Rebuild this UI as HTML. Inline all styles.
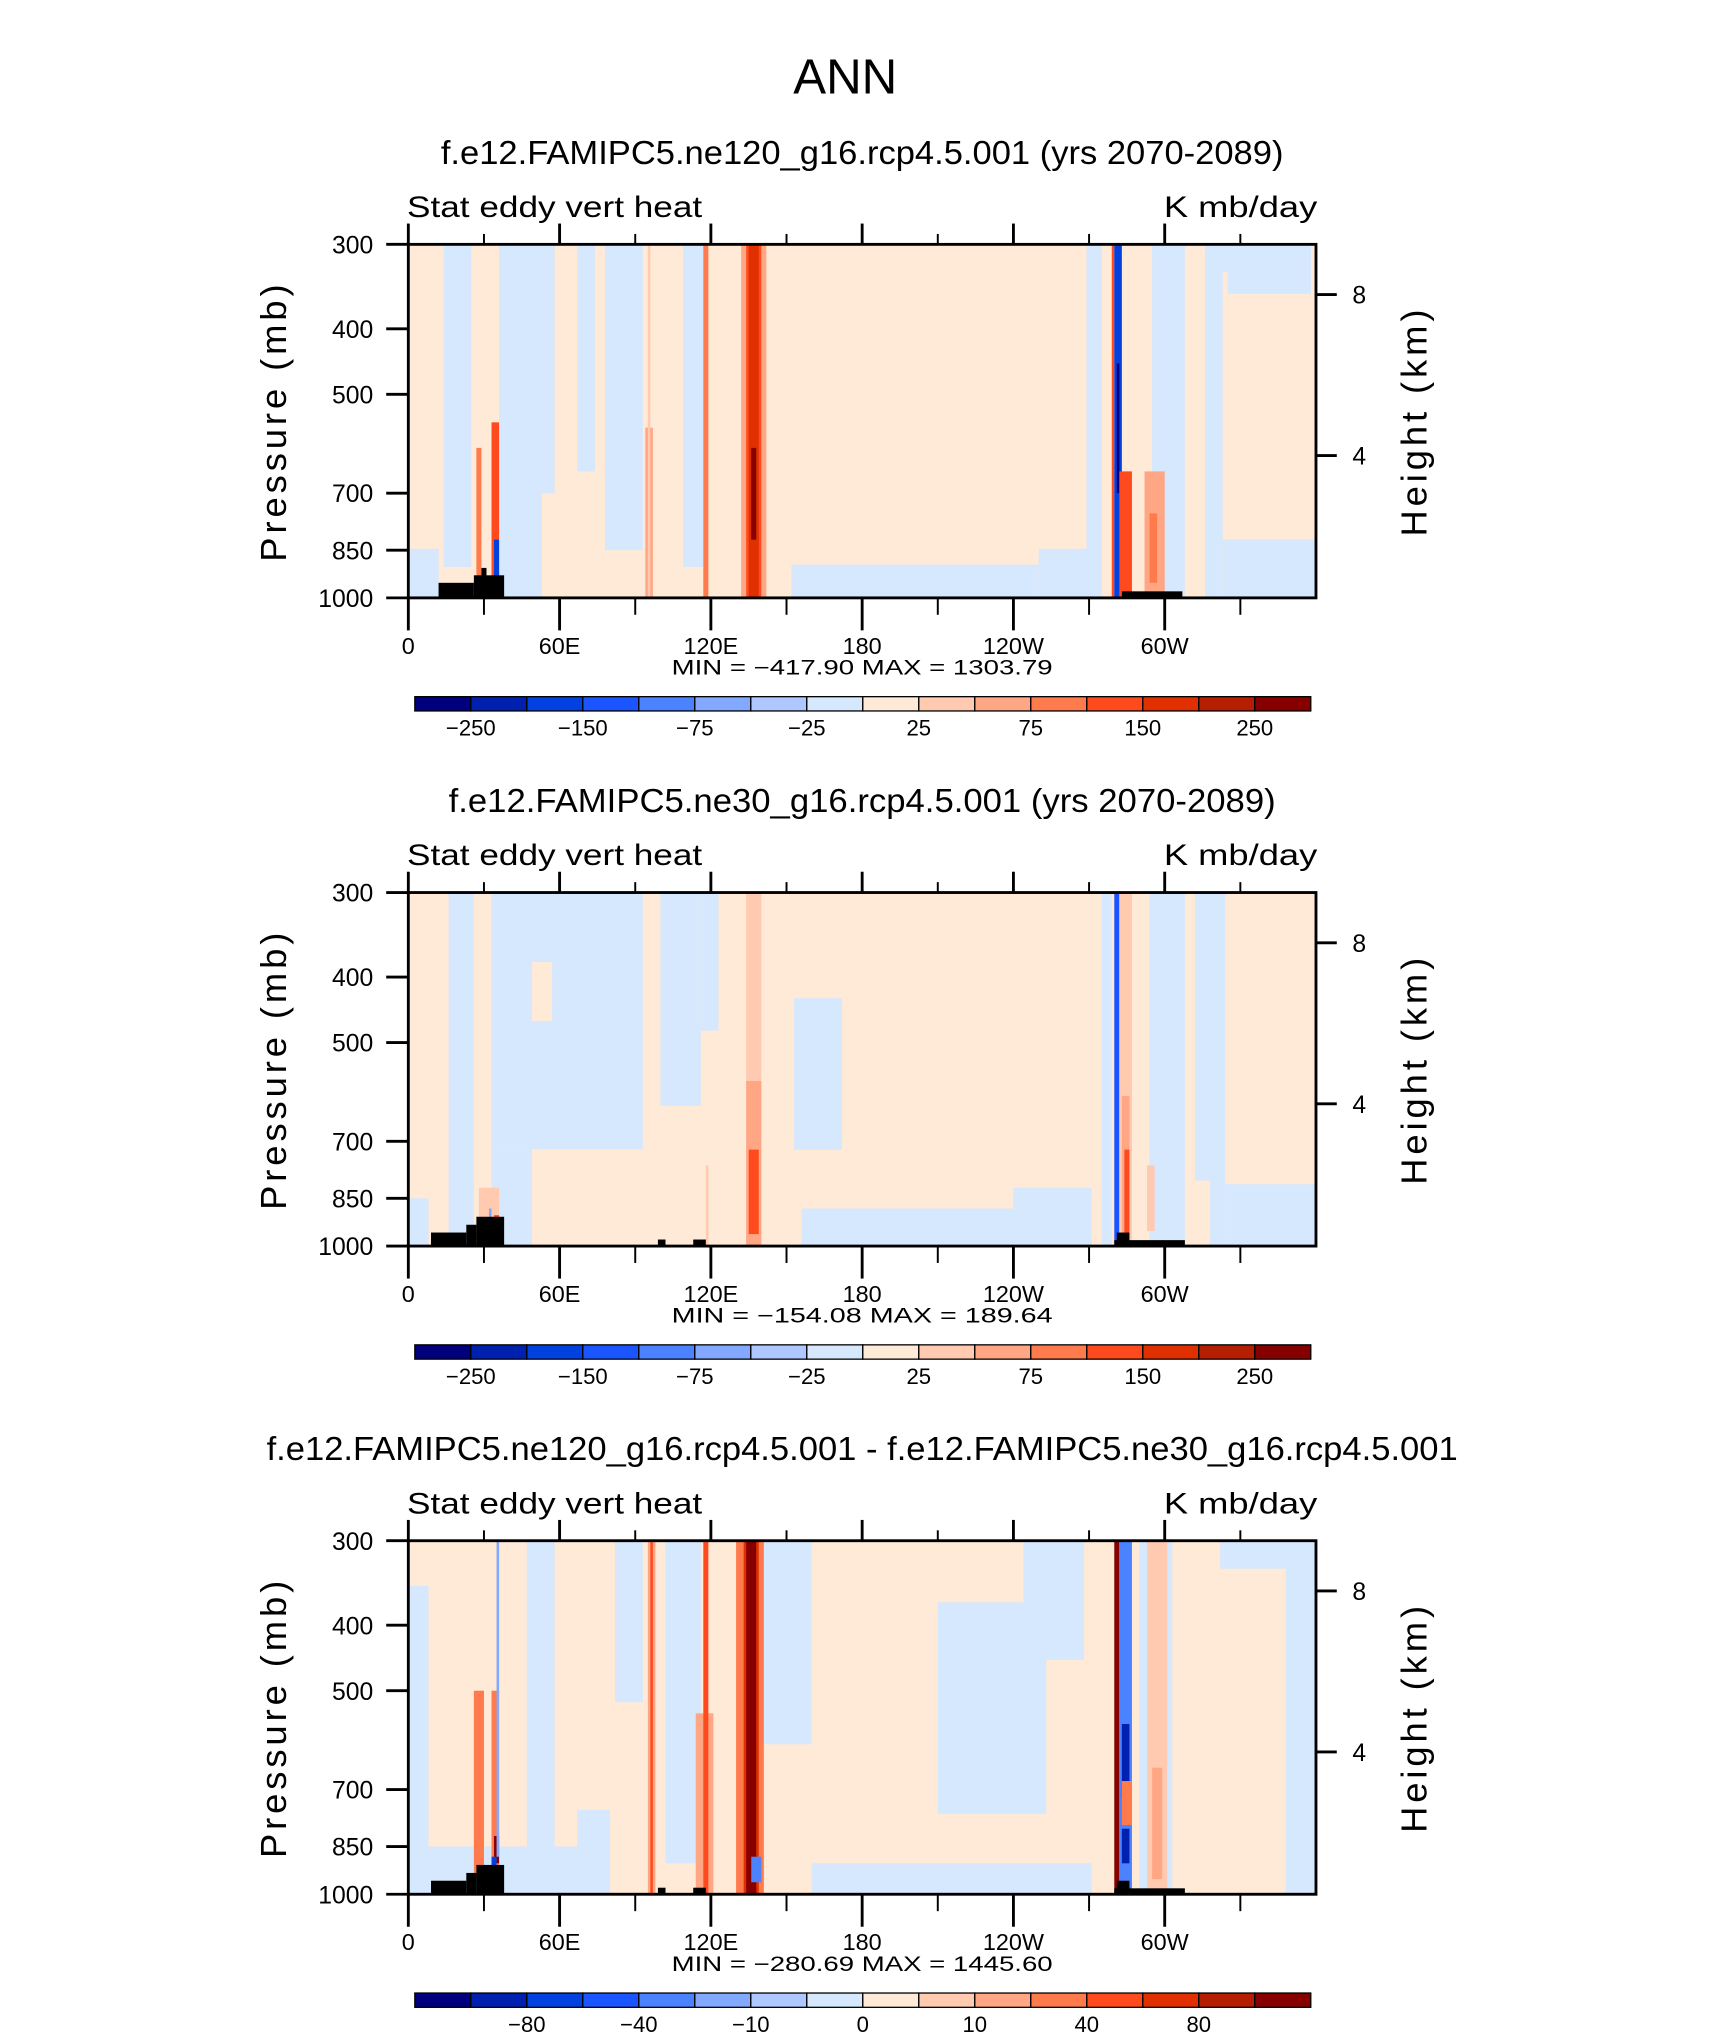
<!DOCTYPE html>
<html><head><meta charset="utf-8"><style>
html,body{margin:0;padding:0;background:#fff;}
svg{display:block;}
text{font-family:"Liberation Sans",sans-serif;fill:#000;}
</style></head><body>
<svg id="fig" width="1710" height="2038" viewBox="0 0 1315 1568" preserveAspectRatio="none" xmlns="http://www.w3.org/2000/svg">
<rect width="1315" height="1568" fill="#fff"/>
<text x="650" y="72" font-size="38" text-anchor="middle" textLength="80" lengthAdjust="spacingAndGlyphs">ANN</text>
</svg>
<script>
const palette = ["#00007f","#0021b0","#0041e0","#1a55ff","#4a82ff","#82a8ff","#aec8ff","#d5e8fd","#ffe9d7","#ffcab0","#ffa684","#ff7a4c","#ff4a1e","#e03000","#b51e00","#870000"];
const lonTickVals = [0,60,120,180,240,300];
const lonTickLabels = ["0","60E","120E","180","120W","60W"];
const lonMinor = [30,90,150,210,270,330];
const pTicks = [300,400,500,700,850,1000];
const hTicks = [8,4];
const hTickP = [356,616];
const cbLabelsA = ["-250","-150","-75","-25","25","75","150","250"];
const cbLabelsB = ["-80","-40","-10","0","10","40","80"];
const panelTitles = ["f.e12.FAMIPC5.ne120_g16.rcp4.5.001 (yrs 2070-2089)","f.e12.FAMIPC5.ne30_g16.rcp4.5.001 (yrs 2070-2089)","f.e12.FAMIPC5.ne120_g16.rcp4.5.001 - f.e12.FAMIPC5.ne30_g16.rcp4.5.001"];
const titleWidths = [648,636,916];
const minMaxText = ["MIN = \u2212417.90   MAX = 1303.79","MIN = \u2212154.08   MAX = 189.64","MIN = \u2212280.69   MAX = 1445.60"];
// fields: [lon0, lon1, pTop, pBot, level]
const field1 = [
 [0,12,846,1000,7],[14,25,300,900,7],[36,53,300,1000,7],[53,58,300,700,7],[67,74,300,650,7],[78,93,300,850,7],
 [109,117,300,900,7],[152,250,893,1000,7],[250,274,846,1000,7],[269,275,300,1000,7],[295,308,300,1000,7],
 [316,323,300,1000,7],[323,360,820,1000,7],[318,346,300,330,7],[325,358,300,355,7],
 [94,97,560,1000,10],[95,96,300,1000,9],[117,119,300,1000,11],[132,142,300,1000,10],[134,140,300,1000,12],[135,139,300,1000,13],[136,138,600,820,15],
 [27,29,600,1000,11],[33,36,550,1000,12],[34,36,820,960,2],
 [279,280,300,1000,12],[280,283,300,1000,2],[281,282,450,700,0],[282,287,650,1000,12],[292,300,650,1000,10],[294,297,750,950,11]
];
const field2 = [
 [0,8,850,1000,7],[16,26,300,1000,7],[33,93,300,719,7],[33,49,719,1000,7],[100,116,300,620,7],[116,123,300,480,7],
 [153,172,430,720,7],[156,240,880,1000,7],[240,271,820,1000,7],[275,279,300,1000,7],[294,308,300,1000,7],
 [312,324,300,800,7],[318,324,800,1000,7],[324,360,810,1000,7],
 [49,57,380,465,8],
 [134,140,300,1000,9],[134,140,570,1000,10],[135,139,720,960,12],[118,119,760,1000,9],
 [28,36,820,960,9],[34,36,900,960,12],[32,33,880,960,5],
 [280,282,300,1000,3],[282,287,300,1000,9],[283,286,600,1000,10],[284,286,720,1000,12],[293,296,760,950,9]
];
const field3 = [
 [0,8,350,1000,7],[0,70,850,1000,7],[47,58,300,1000,7],[67,80,750,1000,7],[82,93,300,520,7],[102,116,300,900,7],
 [140,160,300,600,7],[210,253,370,760,7],[244,268,300,450,7],[160,271,900,1000,7],[290,303,300,1000,7],
 [322,355,300,330,7],[348,360,300,1000,7],
 [95,98,300,1000,10],[96,97,300,1000,12],[114,121,540,1000,10],[117,119,300,1000,12],
 [130,141,300,1000,11],[133,139,300,1000,13],[134,138,300,1000,15],[136,140,880,960,4],
 [26,30,500,950,11],[33,36,500,1000,11],[34,36,820,900,15],[35,36,300,880,5],[33,35,880,930,2],
 [280,282,300,1000,15],[282,287,300,1000,4],[283,286,560,720,1],[283,286,800,900,1],[283,287,680,790,11],
 [293,301,300,1000,9],[295,299,650,950,10]
];
const topo1 = [[12,26,950],[26,38,926],[29,31,903],[283,307,978]];
const topo2 = [[9,23,955],[23,27,930],[27,38,905],[99,102,978],[113,118,978],[281,286,955],[280,308,980]];
const topo3 = [[9,23,955],[23,27,930],[27,38,905],[99,102,978],[113,118,978],[281,286,955],[280,308,980]];
const fields = [field1, field2, field3];
const topos = [topo1, topo2, topo3];

const NS="http://www.w3.org/2000/svg";
const svg=document.getElementById('fig');
const X0=314, X1=1012;
function xs(lon){return X0+(lon/360)*(X1-X0);}
function mk(tag,attrs,parent){const e=document.createElementNS(NS,tag);for(const k in attrs)e.setAttribute(k,attrs[k]);(parent||svg).appendChild(e);return e;}
function txt(s,attrs,parent){const e=mk('text',attrs,parent);e.textContent=s;return e;}

for(let k=0;k<3;k++){
  const off=k*498.7;
  const Y0=188+off, Y1=460+off;
  const ys=p=>Y0+(Math.log(p/300)/Math.log(1000/300))*(Y1-Y0);
  const g=mk('g',{});
  
  
  const t=txt(panelTitles[k],{x:663,y:126+off,'font-size':26,'text-anchor':'middle',textLength:titleWidths[k],lengthAdjust:'spacingAndGlyphs'},g);
  
  
  const s1=txt('Stat eddy vert heat',{x:313,y:167+off,'font-size':23,textLength:227,lengthAdjust:'spacingAndGlyphs'},g);
  
  
  const s2=txt('K mb/day',{x:895,y:167+off,'font-size':23,textLength:118,lengthAdjust:'spacingAndGlyphs'},g);
  
  
  const bg=mk('rect',{x:X0,y:Y0,width:X1-X0,height:Y1-Y0,fill:palette[8]},g);
  
  
  fields[k].forEach(f=>{
    const r=mk('rect',{x:xs(f[0]),y:ys(f[2]),width:xs(f[1])-xs(f[0]),height:ys(f[3])-ys(f[2]),fill:palette[f[4]]},g);
    
    
  });
  topos[k].forEach(f=>{
    const r=mk('rect',{x:xs(f[0]),y:ys(f[2]),width:xs(f[1])-xs(f[0]),height:Y1-ys(f[2]),fill:'#000'},g);
    
    
  });
  const fr=mk('rect',{x:X0,y:Y0,width:X1-X0,height:Y1-Y0,fill:'none',stroke:'#000','stroke-width':2.2},g);
  
  
  lonTickVals.forEach((v,i)=>{
    const x=xs(v);
    mk('line',{x1:x,x2:x,y1:Y1,y2:Y1+25,stroke:'#000','stroke-width':2.2},g);
    mk('line',{x1:x,x2:x,y1:Y0,y2:Y0-16,stroke:'#000','stroke-width':2.2},g);
    const l=txt(lonTickLabels[i],{x:x,y:Y1+43,'font-size':18,'text-anchor':'middle'},g);
    
    
  });
  lonMinor.forEach(v=>{
    const x=xs(v);
    mk('line',{x1:x,x2:x,y1:Y1,y2:Y1+13,stroke:'#000','stroke-width':1.5},g);
    mk('line',{x1:x,x2:x,y1:Y0,y2:Y0-8,stroke:'#000','stroke-width':1.5},g);
  });
  pTicks.forEach(p=>{
    const y=ys(p);
    mk('line',{x1:X0-17,x2:X0,y1:y,y2:y,stroke:'#000','stroke-width':2.2},g);
    const l=txt(String(p),{x:287,y:y+7,'font-size':19,'text-anchor':'end'},g);
    
    
  });
  hTicks.forEach((h,i)=>{
    const y=ys(hTickP[i]);
    mk('line',{x1:X1,x2:X1+16,y1:y,y2:y,stroke:'#000','stroke-width':2.2},g);
    const l=txt(String(h),{x:1040,y:y+7,'font-size':19},g);
    
    
  });
  const yl=txt('Pressure (mb)',{x:0,y:0,'font-size':28,'text-anchor':'middle','letter-spacing':'3',transform:`translate(220,${324+off}) rotate(-90)`},g);
  
  
  const hl=txt('Height (km)',{x:0,y:0,'font-size':28,'text-anchor':'middle','letter-spacing':'3',transform:`translate(1097,${324+off}) rotate(-90)`},g);
  
  
  const mm=txt(minMaxText[k],{x:663,y:519+off,'font-size':16,'text-anchor':'middle',textLength:293,lengthAdjust:'spacingAndGlyphs'},g);
  
  
  const cy=536+off, cw=(1008-319)/16;
  for(let i=0;i<16;i++){
    const r=mk('rect',{x:319+i*cw,y:cy,width:cw,height:11,fill:palette[i],stroke:'#000','stroke-width':1},g);
    
    
  }
  const labs=k<2?cbLabelsA:cbLabelsB;
  labs.forEach((s,i)=>{
    const b=k<2?(2*i+1):(2*i+2);
    const l=txt(s.replace('-','\u2212'),{x:319+b*cw,y:cy+30,'font-size':17,'text-anchor':'middle'},g);
    
    
  });
}
</script>
</body></html>
